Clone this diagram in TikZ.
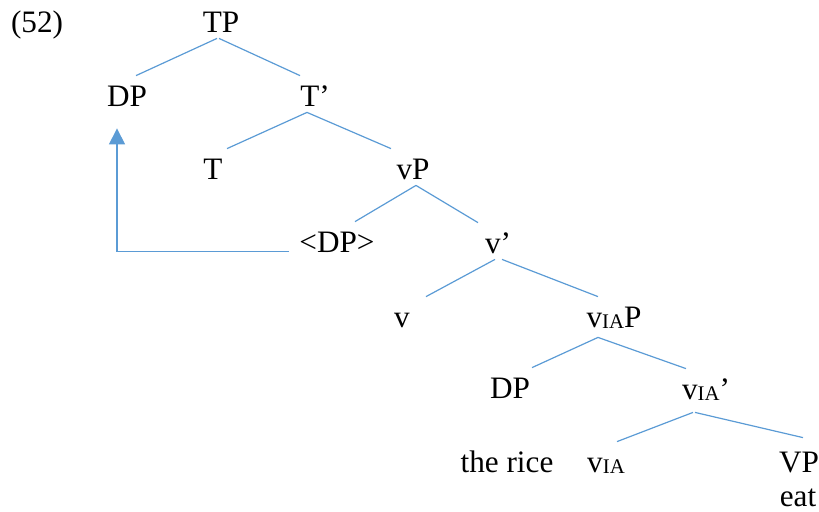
\documentclass[tikz,border=0pt]{standalone}
\usepackage{fontspec}
\setmainfont{Liberation Serif}
\usetikzlibrary{positioning, arrows.meta}
\definecolor{treeblue}{HTML}{5B9BD5}
\tikzstyle{lbl} = [inner sep=0pt, 
text height=15pt, 
text depth=3pt, 
font=\fontsize{15.6}{18}\selectfont]
\tikzstyle{branch} = [draw=treeblue, 
line width=0.6pt]
\newcommand{\vsub}{v\raisebox{-0.8pt}{\fontsize{10.4}{12}\selectfont IA}}

\begin{document}
\begin{tikzpicture}[on grid]
\useasboundingbox (0,0) rectangle (409.5pt,-255.5pt);

\node (num) [lbl] at (18.5pt,-10pt) {(52)};
\node (tp) [lbl] at (110.5pt,-10pt) {TP};
\node (dp1) [lbl, below left=37pt and 47pt of tp] {DP};
\node (tbar) [lbl, below right=37pt and 47pt of tp] {T’};
\draw[branch] ([xshift=-2pt]tp.south) -- ([xshift=4.5pt]dp1.north);
\draw[branch] ([xshift=-1pt]tp.south) -- ([xshift=-7.5pt]tbar.north);

\node (t) [lbl, below left=36.5pt and 51pt of tbar] {T};
\node (vp) [lbl, below right=36.5pt and 49pt of tbar] {vP};
\draw[branch] ([xshift=-4pt]tbar.south) -- ([xshift=7pt]t.north);
\draw[branch] ([xshift=-4pt]tbar.south) -- ([xshift=-11pt]vp.north);

\node (dpt) [lbl, below left=36.5pt and 38pt of vp] {<DP>};
\node (vbar) [lbl, below right=37pt and 42.5pt of vp] {v’};
\draw[branch] ([xshift=1.5pt]vp.south) -- ([xshift=9pt]dpt.north);
\draw[branch] ([xshift=1.5pt]vp.south) -- ([xshift=-10pt]vbar.north);

\node (v) [lbl, below left=37pt and 48pt of vbar] {v};
\node (viap) [lbl, below right=37pt and 58pt of vbar] {\vsub P};
\draw[branch] ([xshift=-1.5pt]vbar.south) -- ([xshift=12pt]v.north);
\draw[branch] ([xshift=2pt]vbar.south) -- ([xshift=-8pt]viap.north);

\node (dp2) [lbl, below left=35.5pt and 52pt of viap] {DP};
\node (viabar) [lbl, below right=36pt and 46pt of viap] {\vsub’};
\draw[branch] ([xshift=-8pt,yshift=-2pt]viap.south) -- ([xshift=11pt]dp2.north);
\draw[branch] ([xshift=-8pt,yshift=-2pt]viap.south) -- ([xshift=-10pt]viabar.north);

\node (rice) [lbl, below left=37pt and 1.5pt of dp2] {the rice};
\node (via) [lbl, below left=36.5pt and 50pt of viabar] {\vsub};
\node (vpl) [lbl, below right=36.5pt and 46.5pt of viabar] {VP};
\node (eat) [lbl, text depth=0pt, below left=15.5pt and 0.5pt of vpl] {eat};
\draw[branch] ([xshift=-6.5pt,yshift=-3.5pt]viabar.south) -- ([xshift=5.5pt]via.north);
\draw[branch] ([xshift=-5.5pt,yshift=-3.5pt]viabar.south) -- ([xshift=2pt,yshift=2pt]vpl.north);

% movement of the subject DP
\draw[branch, -{Triangle[length=8pt,width=8pt]}] ([xshift=-5pt,yshift=3.5pt]dpt.south west) -| ([xshift=-5pt,yshift=-8pt]dp1.south);

\end{tikzpicture}
\end{document}
